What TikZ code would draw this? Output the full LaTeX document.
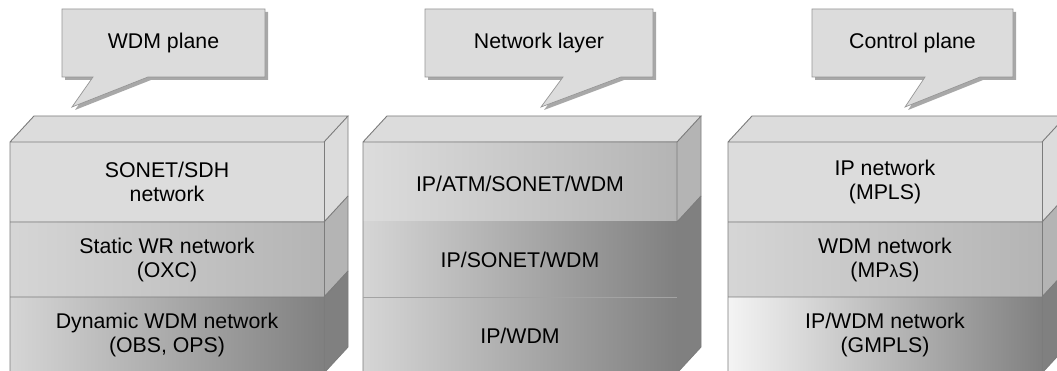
\documentclass[tikz,border=0pt]{standalone}
\usepackage{fontspec}
\setmainfont{Liberation Sans}
\definecolor{lite}{HTML}{DCDCDC}
\definecolor{midgray}{HTML}{B4B4B4}
\definecolor{darkgray}{HTML}{808080}
\definecolor{pale}{HTML}{F4F4F4}
\definecolor{edgegray}{HTML}{7C7C7C}
\definecolor{shadowgray}{HTML}{A8A8A8}
\tikzset{
  edge/.style={draw=edgegray, line width=0.9pt, line join=miter},
  facelite/.style={fill=lite},
  sidemid/.style={fill=midgray},
  sidedark/.style={fill=darkgray},
  grad/.style args={#1 to #2}{left color=#1, right color=#2},
  label/.style={align=center, font=\fontsize{21.3}{24}\selectfont, text=black, inner sep=0pt},
  bubble/.style={fill=lite, draw=edgegray!80, line width=0.7pt},
  bubbleshadow/.style={fill=shadowgray},
}
\begin{document}
\begin{tikzpicture}[x=1pt, y=-1pt]
\useasboundingbox (0,0) rectangle (1057,371);
\fill[white] (0,0) rectangle (1057,371);
\clip (0,0) rectangle (1057,371);

% ---------- speech bubbles ----------
% WDM plane
\fill[bubbleshadow] (65,12) -- (268,12) -- (268,80) -- (151,80) -- (75,110) -- (96,80) -- (65,80) -- cycle;
\draw[bubble] (62,9) -- (265,9) -- (265,77) -- (148,77) -- (72,107) -- (93,77) -- (62,77) -- cycle;
\node[label] (wdmplane) at (163.5,43) {WDM plane};
% Network layer
\fill[bubbleshadow] (428,12) -- (656,12) -- (656,80) -- (624,80) -- (544,110) -- (566,80) -- (428,80) -- cycle;
\draw[bubble] (425,9) -- (653,9) -- (653,77) -- (621,77) -- (541,107) -- (563,77) -- (425,77) -- cycle;
\node[label] (netlayer) at (539,43) {Network layer};
% Control plane
\fill[bubbleshadow] (815,12) -- (1016,12) -- (1016,80) -- (983,80) -- (908,110) -- (928,80) -- (815,80) -- cycle;
\draw[bubble] (812,9) -- (1013,9) -- (1013,77) -- (980,77) -- (905,107) -- (925,77) -- (812,77) -- cycle;
\node[label] (ctrlplane) at (912.5,43) {Control plane};

% ---------- left stack (x 10..324) ----------
\fill[facelite] (10,142) -- (34,116) -- (348,116) -- (324,142) -- cycle;
\fill[facelite] (324,142) -- (348,116) -- (348,196) -- (324,222) -- cycle;
\fill[sidemid] (324,222) -- (348,196) -- (348,271) -- (324,297) -- cycle;
\fill[sidedark] (324,297) -- (348,271) -- (348,347) -- (324,373) -- cycle;
\fill[facelite] (10,142) rectangle (324,222);
\shade[grad=lite!97!black to midgray] (10,222) rectangle (324,297);
\shade[grad=lite!97!black to darkgray] (10,297) rectangle (324,373);
\draw[edge] (10,373) -- (10,142) -- (34,116) -- (348,116) -- (324,142) -- (10,142);
\draw[edge] (324,142) -- (324,373);
\draw[edge] (348,116) -- (348,347) -- (324,373);
\draw[edge] (10,222) -- (324,222) -- (348,196);
\draw[edge] (10,297) -- (324,297) -- (348,271);
\node[label] (sonet) at (167,182) {SONET/SDH\\network};
\node[label] (staticwr) at (167,260) {Static WR network\\(OXC)};
\node[label] (dynwdm) at (167,335) {Dynamic WDM network\\(OBS, OPS)};

% ---------- middle stack (x 363..677) ----------
\fill[facelite] (363,142) -- (387,116) -- (701,116) -- (677,142) -- cycle;
\fill[sidemid] (677,142) -- (701,116) -- (701,196) -- (677,222) -- cycle;
\fill[sidedark] (677,222) -- (701,196) -- (701,347) -- (677,373) -- cycle;
\shade[grad=lite to midgray] (363,142) rectangle (677,222);
\shade[grad=lite!97!black to darkgray] (363,222) rectangle (677,297);
\shade[grad=lite!97!black to darkgray] (363,297) rectangle (677,373);
\draw[edge] (363,373) -- (363,142) -- (387,116) -- (701,116) -- (677,142) -- (363,142);
\draw[edge] (677,142) -- (677,222) -- (701,196);
\draw[edge] (701,116) -- (701,347) -- (677,373);
\draw[draw=edgegray!70, line width=0.9pt] (363,297) -- (677,297);
\node[label] (ipatm) at (520,184) {IP/ATM/SONET/WDM};
\node[label] (ipsonet) at (520,260) {IP/SONET/WDM};
\node[label] (ipwdm) at (520,336) {IP/WDM};

% ---------- right stack (x 728..1042) ----------
\fill[facelite] (728,142) -- (752,116) -- (1066,116) -- (1042,142) -- cycle;
\fill[facelite] (1042,142) -- (1066,116) -- (1066,196) -- (1042,222) -- cycle;
\fill[sidemid] (1042,222) -- (1066,196) -- (1066,271) -- (1042,297) -- cycle;
\fill[sidedark] (1042,297) -- (1066,271) -- (1066,347) -- (1042,373) -- cycle;
\fill[facelite] (728,142) rectangle (1042,222);
\shade[grad=lite!97!black to midgray] (728,222) rectangle (1042,297);
\shade[grad=pale to darkgray] (728,297) rectangle (1042,373);
\draw[edge] (728,373) -- (728,142) -- (752,116) -- (1066,116) -- (1042,142) -- (728,142);
\draw[edge] (1042,142) -- (1042,373);
\draw[edge] (1066,116) -- (1066,347) -- (1042,373);
\draw[edge] (728,222) -- (1042,222) -- (1066,196);
\draw[edge] (728,297) -- (1042,297) -- (1066,271);
\node[label] (ipnet) at (885,182) {IP network\\(MPLS)};
\node[label] (wdmnet) at (885,260) {WDM network\\(MP{\fontsize{17.5}{24}\selectfont λ}S)};
\node[label] (ipwdmnet) at (885,335) {IP/WDM network\\(GMPLS)};
\end{tikzpicture}
\end{document}
